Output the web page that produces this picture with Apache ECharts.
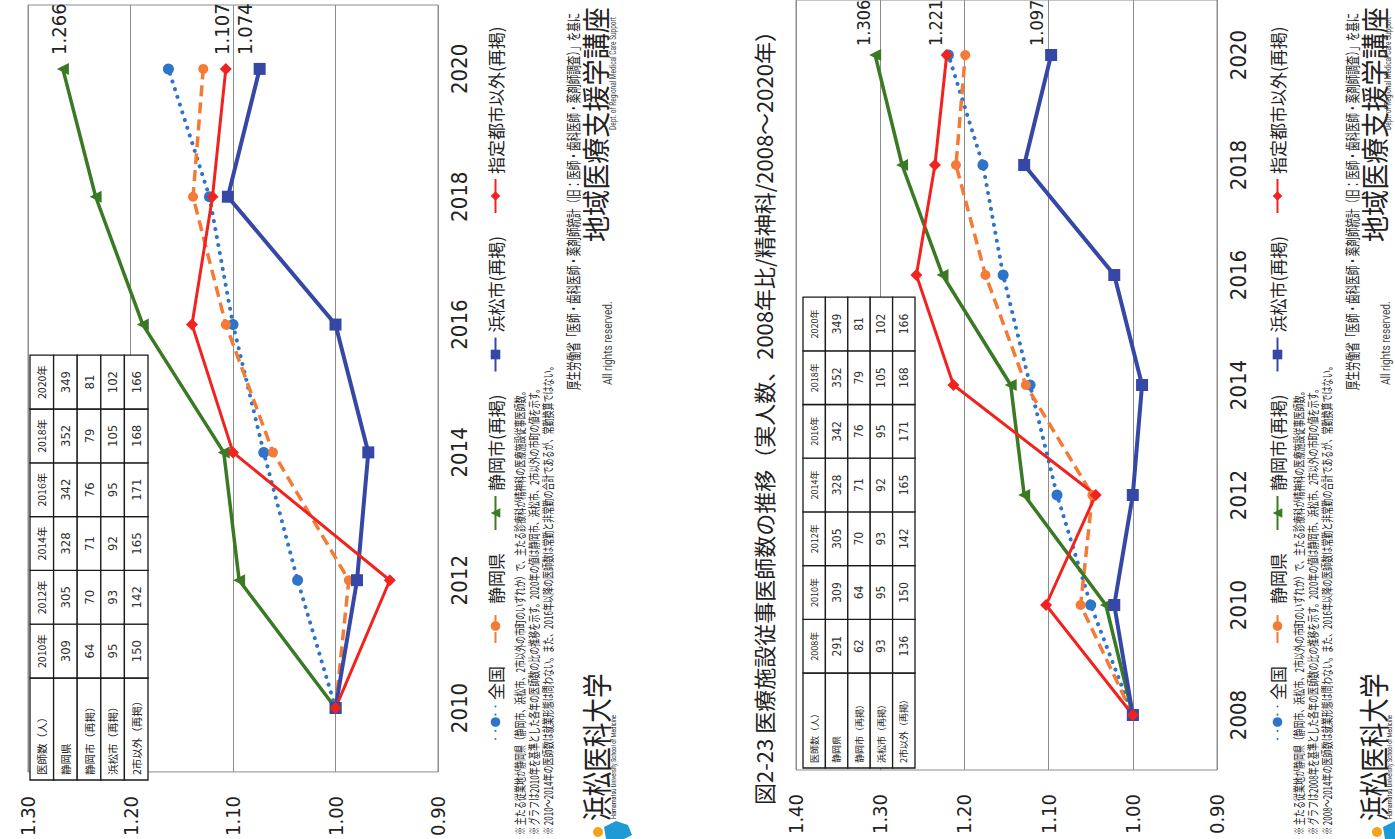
<!DOCTYPE html>
<html>
<head>
<meta charset="utf-8">
<script src="https://cdn.jsdelivr.net/npm/echarts@6/dist/echarts.min.js"></script>
<style>
html, body { margin: 0; padding: 0; background: #fff; overflow: hidden; width: 1395px; height: 839px; }
/* the scanned page is turned a quarter turn, so the chart is laid out upright and rotated */
#page { position: absolute; left: 0; top: 0; width: 839px; height: 1395px; background: #fff;
        transform-origin: 0 0; transform: translate(0, 839px) rotate(-90deg); }
</style>
</head>
<body>
<div id="page"></div>
<script>
// ---- data ----
const yearsA = ['2010', '2012', '2014', '2016', '2018', '2020'];
const yearsB = ['2008', '2010', '2012', '2014', '2016', '2018', '2020'];
const seriesNames = ['全国', '静岡県', '静岡市(再掲)', '浜松市(再掲)', '指定都市以外(再掲)'];

// ratio to 2010 (upper chart)
const zenkokuA   = [1.000, 1.037, 1.070, 1.100, 1.123, 1.163];
const kenA       = [1.000, 0.987, 1.061, 1.107, 1.139, 1.129];
const shizuokaA  = [1.000, 1.094, 1.109, 1.188, 1.234, 1.266];
const hamamatsuA = [1.000, 0.979, 0.968, 1.000, 1.105, 1.074];
const otherA     = [1.000, 0.947, 1.100, 1.140, 1.120, 1.107];

// ratio to 2008 (lower chart)
const zenkokuB   = [1.000, 1.050, 1.090, 1.122, 1.154, 1.178, 1.219];
const kenB       = [1.000, 1.062, 1.048, 1.127, 1.175, 1.210, 1.199];
const shizuokaB  = [1.000, 1.032, 1.129, 1.145, 1.226, 1.274, 1.306];
const hamamatsuB = [1.000, 1.022, 1.000, 0.989, 1.022, 1.129, 1.097];
const otherB     = [1.000, 1.103, 1.044, 1.213, 1.257, 1.235, 1.221];

// doctor counts, 2008..2020
const tableYears     = ['2008年', '2010年', '2012年', '2014年', '2016年', '2018年', '2020年'];
const rowLabels      = ['静岡県', '静岡市（再掲）', '浜松市（再掲）', '2市以外（再掲）'];
const countKen       = [291, 309, 305, 328, 342, 352, 349];
const countShizuoka  = [62, 64, 70, 71, 76, 79, 81];
const countHamamatsu = [93, 95, 93, 92, 95, 105, 102];
const countOther     = [136, 150, 142, 165, 171, 168, 166];

const valueTicksA = [0.9, 1.3];
const valueTicksB = [0.9, 1.4];

const titleB = '図2-23 医療施設従事医師数の推移（実人数、2008年比/精神科/2008～2020年）';
const notesA = [
  '※ 主たる従業地が静岡県（静岡市、浜松市、2市以外の市町のいずれか）で、主たる診療科が精神科の医療施設従事医師数。',
  '※ グラフは2010年を基準とした各年の医師数の比の推移を示す。2020年の値は静岡市、浜松市、2市以外の市町の値を示す。',
  '※ 2010～2014年の医師数は就業形態は問わない。また、2016年以降の医師数は常勤と非常勤の合計であるが、常勤換算ではない。'
];
const notesB = [
  '※ 主たる従業地が静岡県（静岡市、浜松市、2市以外の市町のいずれか）で、主たる診療科が精神科の医療施設従事医師数。',
  '※ グラフは2008年を基準とした各年の医師数の比の推移を示す。2020年の値は静岡市、浜松市、2市以外の市町の値を示す。',
  '※ 2008～2014年の医師数は就業形態は問わない。また、2016年以降の医師数は常勤と非常勤の合計であるが、常勤換算ではない。'
];
const sourceText = '厚生労働省「医師・歯科医師・薬剤師統計（旧：医師・歯科医師・薬剤師調査）」を基に';

// ---- styles ----
const NARROW = "'Liberation Sans Narrow','Arial Narrow','DejaVu Sans Condensed',sans-serif";
const JP = "'Noto Sans CJK JP','Noto Sans CJK SC',sans-serif";
const INK = '#222';
const PAGE_H = 1395;

const styles = [
  { color: '#2E74C8', type: [0.1, 8], cap: 'round', width: 4, symbol: 'circle', size: 11 },
  { color: '#F47A36', type: [11, 6], cap: 'butt', width: 3.5, symbol: 'circle', size: 10 },
  { color: '#3A7A24', type: 'solid', cap: 'butt', width: 3.5, symbol: 'triangle', size: 12 },
  { color: '#3648A6', type: 'solid', cap: 'butt', width: 4, symbol: 'rect', size: 12 },
  { color: '#F2231F', type: 'solid', cap: 'butt', width: 3, symbol: 'diamond', size: 12 }
];
// end labels: [offset, font size, distance]
const endLabelA = [null, null, [[0, -4], 20, 8], [[0, -15], 20, 8], [[0, -4], 20, 8]];
const endLabelB = [null, null, [[0, -12], 18, 3], [[0, -15], 18, 3], [[0, -11], 18, 3]];

function makeSeries(arr, i, axis, labels) {
  const s = styles[i];
  const lb = labels[i];
  return {
    name: seriesNames[i],
    type: 'line',
    xAxisIndex: axis,
    yAxisIndex: axis,
    symbol: s.symbol,
    symbolSize: s.size,
    animation: false,
    itemStyle: { color: s.color },
    lineStyle: { color: s.color, width: s.width, type: s.type, cap: s.cap },
    data: arr.map((v, k) => {
      if (k === arr.length - 1 && lb) {
        return {
          value: v,
          label: {
            show: true, position: 'right', distance: lb[2], offset: lb[0],
            formatter: p => p.value.toFixed(3),
            fontSize: lb[1], fontFamily: NARROW, color: INK
          }
        };
      }
      return v;
    })
  };
}

function catAxis(idx, data) {
  return {
    type: 'category', gridIndex: idx, data: data, boundaryGap: true,
    axisLine: { show: false }, axisTick: { show: false },
    axisLabel: { fontSize: 22, fontFamily: NARROW, color: INK, margin: 10 }
  };
}
function valAxis(idx, ticks) {
  return {
    type: 'value', gridIndex: idx, min: ticks[0], max: ticks[1], interval: 0.1,
    axisLine: { show: false }, axisTick: { show: false },
    splitLine: { lineStyle: { color: '#8c8c8c', width: 1 } },
    axisLabel: { fontSize: 20, fontFamily: NARROW, color: INK, margin: 24,
                 formatter: v => v.toFixed(2) }
  };
}

function text(x, y, str, size, opt) {
  opt = opt || {};
  return {
    type: 'text', x: x, y: y, z: 100, scaleX: opt.sx || 1,
    style: { text: str, fontSize: size, fontFamily: opt.ff || JP, fill: opt.color || INK,
             align: opt.align || 'left', verticalAlign: 'middle' }
  };
}

// data table drawn as graphic cells
function table(x0, y0, headW, colW, rowH, from, fs) {
  const els = [];
  const years = tableYears.slice(from);
  const rows = [countKen, countShizuoka, countHamamatsu, countOther].map(r => r.slice(from));
  const header = ['医師数（人）'].concat(years);
  const body = rowLabels.map((l, r) => [l].concat(rows[r]));
  [header].concat(body).forEach((row, r) => {
    row.forEach((cell, c) => {
      const x = c === 0 ? x0 : x0 + headW + (c - 1) * colW;
      const w = c === 0 ? headW : colW;
      const y = y0 + r * rowH;
      els.push({ type: 'rect', z: 99, shape: { x: x, y: y, width: w, height: rowH },
                 style: { fill: '#fff', stroke: '#1a1a1a', lineWidth: 1.3 } });
      if (c === 0) {
        els.push(text(x + 5, y + rowH / 2, String(cell), fs.label));
      } else if (r === 0) {
        els.push(text(x + w / 2, y + rowH / 2, String(cell), fs.head, { align: 'center' }));
      } else {
        els.push(text(x + w / 2, y + rowH / 2, String(cell), fs.num,
                      { align: 'center', ff: NARROW, color: '#333' }));
      }
    });
  });
  return els;
}

// notes, source and logo block below each chart; the lower one is kept inside the page
function footer(v0, notes) {
  const els = [];
  const inside = (v, half) => Math.min(v, PAGE_H - half - 1);
  notes.forEach((n, k) => els.push(text(4, v0 + k * 14, n, 12, { sx: 0.67 })));
  els.push(text(449, v0 + 53, sourceText, 14.5, { sx: 0.66 }));
  els.push(text(454, inside(v0 + 88, 8), 'All rights reserved.', 13, { ff: 'Roboto', sx: 0.78, color: '#444' }));
  els.push(text(597, v0 + 74, '地域医療支援学講座', 29, { sx: 0.9 }));
  els.push(text(709, inside(v0 + 93, 6), 'Dept. of Regional Medical Care Support', 9, { ff: 'Roboto', sx: 0.72, color: '#444' }));
  // university logo
  els.push({ type: 'circle', z: 100, shape: { cx: 7, cy: v0 + 78, r: 5 }, style: { fill: '#F5A21B' } });
  els.push({ type: 'polygon', z: 100, shape: { points: [[0, v0 + 86], [12, v0 + 84], [18, v0 + 96], [14, v0 + 108], [4, v0 + 112], [0, v0 + 104]] },
             style: { fill: '#1E9BD7' } });
  els.push(text(18, inside(v0 + 75, 22), '浜松医科大学', 30, { sx: 0.82 }));
  els.push(text(20, inside(v0 + 93, 5), 'Hamamatsu University School of Medicine', 6.5, { ff: 'Roboto', sx: 0.85 }));
  return els;
}

const chart = echarts.init(document.getElementById('page'), null, { renderer: 'svg' });

const legendBase = {
  data: seriesNames, orient: 'horizontal', selectedMode: false,
  itemWidth: 34, itemHeight: 12, itemGap: 22,
  textStyle: { fontSize: 17, fontFamily: JP, color: INK }
};

chart.setOption({
  animation: false,
  backgroundColor: '#fff',
  grid: [
    { left: 58, top: 28, width: 776, height: 410, show: true, borderColor: '#8c8c8c', borderWidth: 1 },
    { left: 69, top: 796, width: 776, height: 421, show: true, borderColor: '#8c8c8c', borderWidth: 1 }
  ],
  xAxis: [catAxis(0, yearsA), catAxis(1, yearsB)],
  yAxis: [valAxis(0, valueTicksA), valAxis(1, valueTicksB)],
  legend: [
    Object.assign({ left: 94, top: 482 }, legendBase),
    Object.assign({ left: 94, top: 1264 }, legendBase)
  ],
  series: [
    makeSeries(zenkokuA, 0, 0, endLabelA),
    makeSeries(kenA, 1, 0, endLabelA),
    makeSeries(shizuokaA, 2, 0, endLabelA),
    makeSeries(hamamatsuA, 3, 0, endLabelA),
    makeSeries(otherA, 4, 0, endLabelA),
    makeSeries(zenkokuB, 0, 1, endLabelB),
    makeSeries(kenB, 1, 1, endLabelB),
    makeSeries(shizuokaB, 2, 1, endLabelB),
    makeSeries(hamamatsuB, 3, 1, endLabelB),
    makeSeries(otherB, 4, 1, endLabelB)
  ],
  graphic: [].concat(
    table(59, 30, 102, 53.8, 23.6, 1, { label: 10.5, head: 10.5, num: 13 }),
    table(71, 803, 95, 53.7, 22.4, 0, { label: 9, head: 9, num: 12 }),
    [text(34, 763, titleB, 22)],
    footer(520, notesA),
    footer(1299, notesB)
  )
});
</script>
</body>
</html>
